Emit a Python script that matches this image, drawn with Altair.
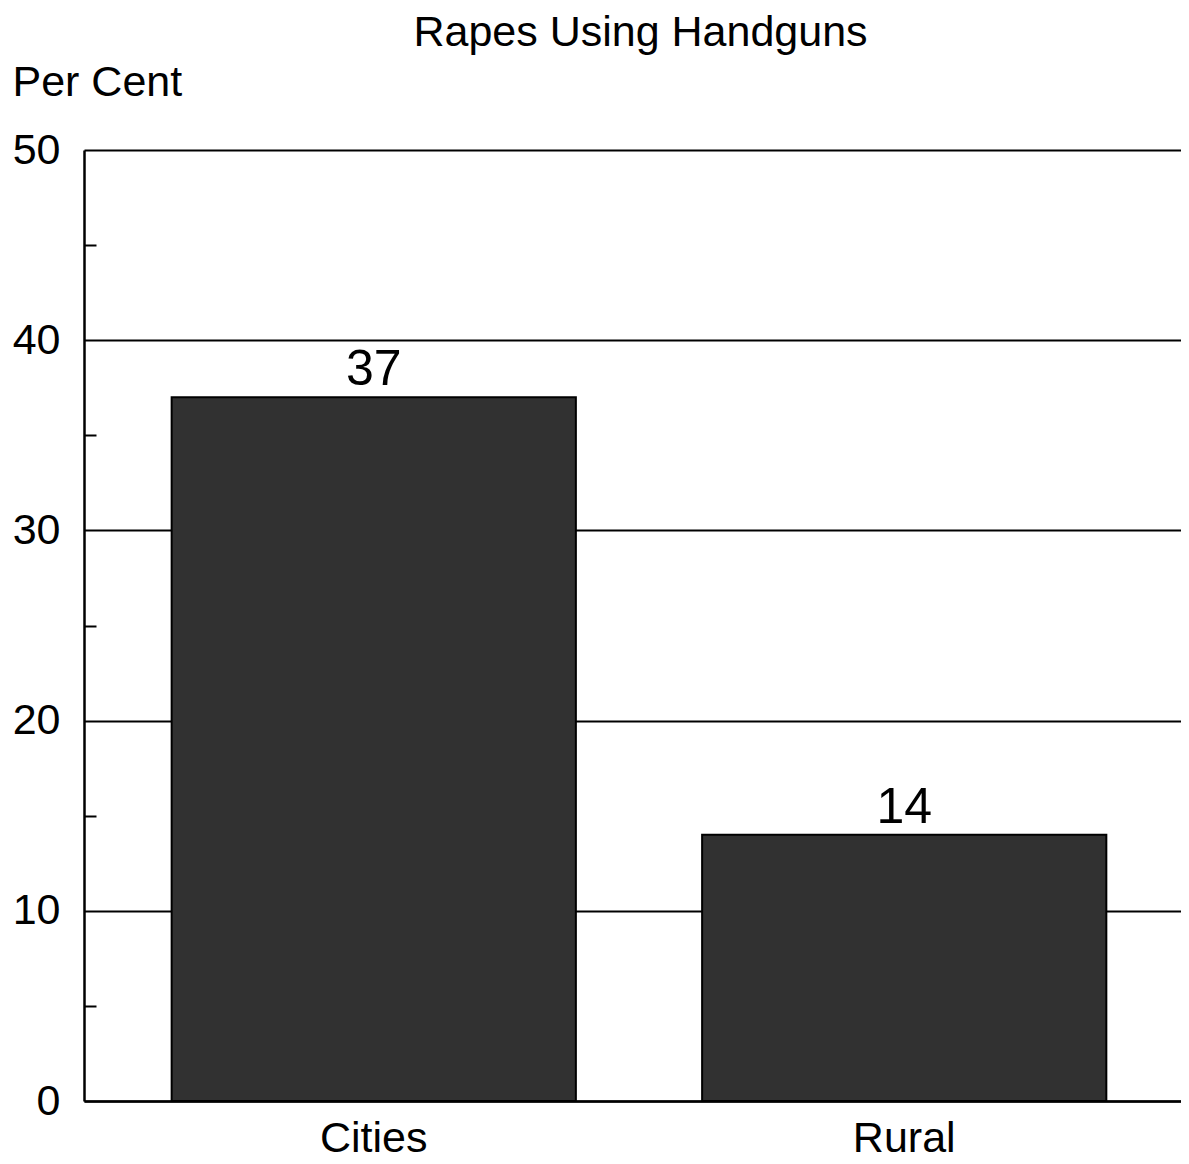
import altair as alt
import pandas as pd

categories = ["Cities", "Rural"]
values = [37, 14]
major_ticks = [0, 10, 20, 30, 40, 50]
minor_ticks = [5, 15, 25, 35, 45]

df = pd.DataFrame({"area": categories, "pct": values})

W = 1097
H = 951
FONT = "Liberation Sans"

x_scale = alt.Scale(paddingInner=0.238, paddingOuter=0.153, align=0.54)
y_scale = alt.Scale(domain=[0, 50], nice=False)

x_enc = alt.X(
    "area:N",
    sort=categories,
    scale=x_scale,
    axis=alt.Axis(
        title=None, labelAngle=0, labelFontSize=43, labelFont=FONT,
        labelColor="black", labelPadding=16, ticks=False,
        domainColor="black", domainWidth=2.5,
    ),
)

bars = alt.Chart(df).mark_bar(color="#313131", stroke="black", strokeWidth=2).encode(
    x=x_enc,
    y=alt.Y(
        "pct:Q",
        scale=y_scale,
        axis=alt.Axis(
            values=major_ticks, grid=True, gridColor="black", gridWidth=2,
            gridOpacity=1, ticks=False, domainColor="black", domainWidth=2.5,
            labelFontSize=43, labelFont=FONT, labelColor="black", labelPadding=24,
            title="Per Cent", titleAngle=0, titleFontSize=43, titleFont=FONT,
            titleFontWeight="normal", titleColor="black", titleAlign="left",
            titleBaseline="alphabetic", titleX=-72, titleY=-55,
        ),
    ),
)

minor = alt.Chart(df).mark_bar(opacity=0).encode(
    x=alt.X("area:N", sort=categories, scale=x_scale),
    y=alt.Y(
        "pct:Q",
        scale=y_scale,
        axis=alt.Axis(
            orient="right", offset=-W, values=minor_ticks, labels=False,
            domain=False, grid=False, ticks=True, tickSize=12, tickWidth=2,
            tickColor="black", title=None,
        ),
    ),
)

labels = alt.Chart(df).mark_text(
    baseline="alphabetic", dy=-12, fontSize=50, font=FONT, color="black"
).encode(
    x=alt.X("area:N", sort=categories, scale=x_scale),
    y=alt.Y("pct:Q", scale=y_scale, axis=None),
    text=alt.Text("pct:Q"),
)

chart = alt.layer(bars, minor, labels).resolve_axis(y="independent").properties(
    width=W,
    height=H,
    title=alt.TitleParams(
        "Rapes Using Handguns", fontSize=43, font=FONT, fontWeight="normal",
        color="black", anchor="middle", dx=8, dy=14, offset=20,
    ),
    autosize=alt.AutoSizeParams(type="none"),
    padding={"left": 76, "top": 142, "right": 0, "bottom": 62},
).configure_view(stroke=None).configure(background="white")

chart.save("out.html", embed_options={"renderer": "svg", "actions": False})
